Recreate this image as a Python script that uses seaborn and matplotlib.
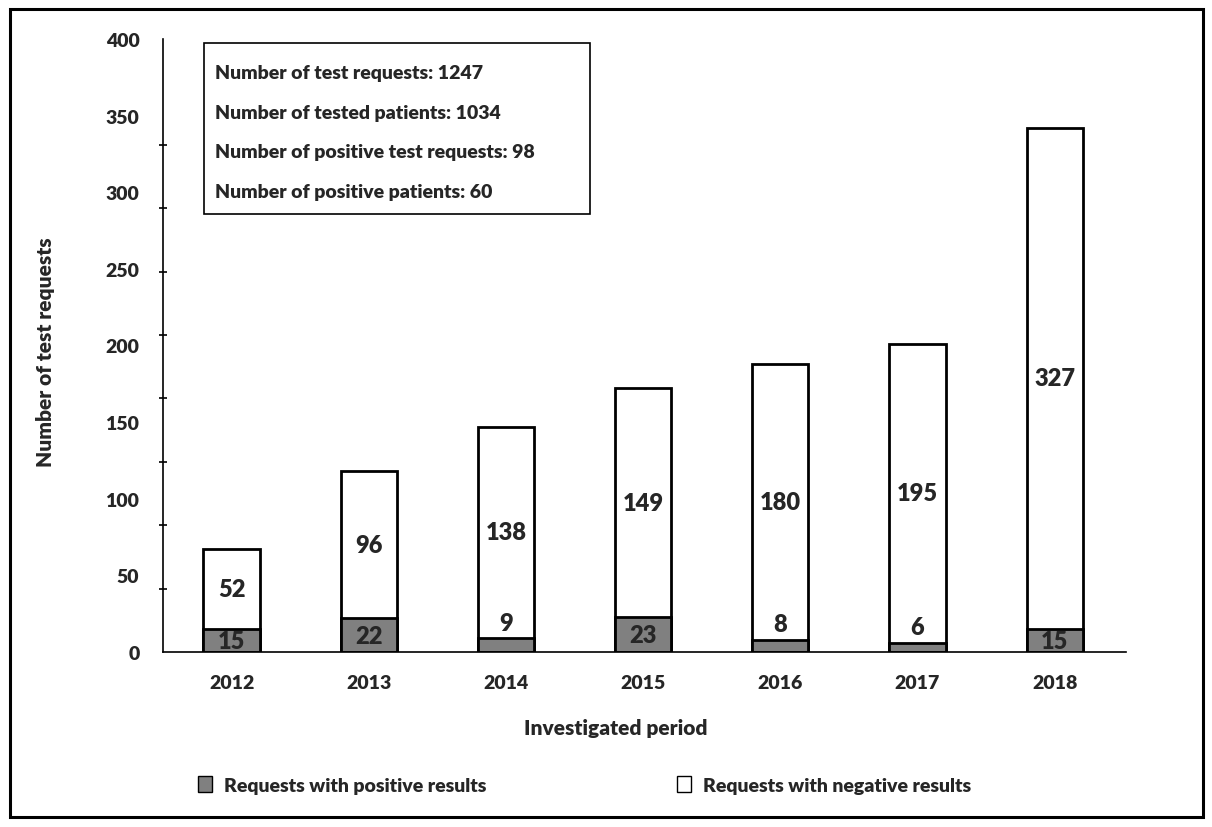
import numpy as np
import pandas as pd
import matplotlib
matplotlib.use("Agg")
import matplotlib.pyplot as plt
from matplotlib.patches import Patch, Rectangle
import seaborn as sns

years = ["2012", "2013", "2014", "2015", "2016", "2017", "2018"]
positive = [15, 22, 9, 23, 8, 6, 15]
negative = [52, 96, 138, 149, 180, 195, 327]
y_ticks = [0, 50, 100, 150, 200, 250, 300, 350, 400]
summary_lines = [
    "Number of test requests: 1247",
    "Number of tested patients: 1034",
    "Number of positive test requests: 98",
    "Number of positive patients: 60",
]
legend_labels = ["Requests with positive results", "Requests with negative results"]

sns.set_theme(style="white")
plt.rcParams["font.family"] = ["Lato", "DejaVu Sans"]
W = "heavy"
plt.rcParams["font.weight"] = W

df = pd.DataFrame({"year": years, "positive": positive, "negative": negative})
df["total"] = df["positive"] + df["negative"]

fig = plt.figure(figsize=(12.12, 8.28), dpi=100)
ax = fig.add_axes([163 / 1212, 1 - 653 / 828, (1126 - 163) / 1212, (653 - 40) / 828])

bar_kw = dict(width=0.41, edgecolor="black", linewidth=2, ax=ax, zorder=2)
sns.barplot(data=df, x="year", y="total", color="white", **bar_kw)
sns.barplot(data=df, x="year", y="positive", color="#808080", **bar_kw)
for p in ax.patches:
    p.set_facecolor(p.get_facecolor()[:3] + (1.0,))

# value labels: positives inside the grey segment when it is tall enough, else just above it
for i, (pos, neg) in enumerate(zip(positive, negative)):
    if pos >= 12:
        ax.text(i, pos / 2 - 0.5, str(pos), ha="center", va="center", fontsize=17, fontweight=W, zorder=3)
    else:
        ax.text(i, pos + 3, str(pos), ha="center", va="bottom", fontsize=17, fontweight=W, zorder=3)
    ax.text(i, pos + neg / 2, str(neg), ha="center", va="center", fontsize=17, fontweight=W, zorder=3)

ax.set_xlim(-0.5, 6.52)
ax.set_ylim(0, 400)
ax.set_yticks(y_ticks)
ax.set_yticklabels([str(v) for v in y_ticks], fontsize=14, fontweight=W)
ax.set_yticks(np.linspace(0, 331, 9), minor=True)
ax.tick_params(axis="y", which="major", length=0, pad=17)
ax.tick_params(axis="y", which="minor", length=6, width=1.2, direction="inout", color="black", left=True)
ax.tick_params(axis="x", length=0, pad=16, labelsize=14)
for lab in ax.get_xticklabels():
    lab.set_fontweight(W)

for side in ["top", "right"]:
    ax.spines[side].set_visible(False)
for side in ["left", "bottom"]:
    ax.spines[side].set_color("black")
    ax.spines[side].set_linewidth(1.2)

ax.set_xlabel("Investigated period", fontsize=15, fontweight=W)
ax.xaxis.set_label_coords((616 - 163) / 963, -0.107)
ax.set_ylabel("Number of test requests", fontsize=15, fontweight=W)
ax.yaxis.set_label_coords(-0.112, 0.49)

# summary box
box = Rectangle((204 / 1212, 1 - 215 / 828), (590 - 204) / 1212, (215 - 44) / 828,
                transform=fig.transFigure, facecolor="white", edgecolor="black", linewidth=1.2, zorder=5)
fig.patches.append(box)
for k, line in enumerate(summary_lines):
    fig.text(215 / 1212, 1 - (74 + 39.5 * k) / 828, line, fontsize=14, fontweight=W,
             va="center", ha="left", zorder=6)

# legend
handles = [Patch(facecolor="#808080", edgecolor="black", linewidth=1),
           Patch(facecolor="white", edgecolor="black", linewidth=1)]
fig.legend(handles, legend_labels, loc="center left", bbox_to_anchor=(180 / 1212, 1 - 786 / 828),
           ncol=2, frameon=False, prop={"size": 14, "weight": W},
           handlelength=0.75, handleheight=0.9, handletextpad=0.6, columnspacing=9.8)

# outer frame
fig.patches.append(Rectangle((10 / 1212, 10 / 828), 1193 / 1212, 808 / 828, transform=fig.transFigure,
                             facecolor="none", edgecolor="black", linewidth=2.2))

fig.savefig("out.png", dpi=100)
